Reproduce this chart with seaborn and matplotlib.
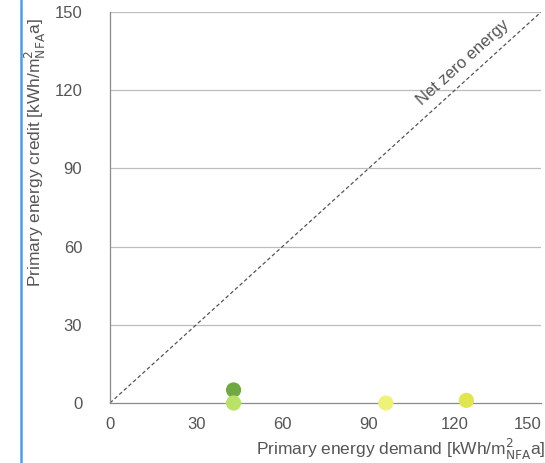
import matplotlib
matplotlib.use("Agg")
import matplotlib.pyplot as plt
import seaborn as sns
import pandas as pd
from matplotlib.lines import Line2D

sns.set_style("white")
plt.rcParams['font.family'] = ['Liberation Sans', 'DejaVu Sans']

# Data
demand = [43, 43, 96, 124]
credit = [5, 0, 0, 1]
building = ["A", "B", "C", "D"]
colors = ["#70a844", "#b9e266", "#eef27a", "#e2e64e"]
ticks = [0, 30, 60, 90, 120, 150]

df = pd.DataFrame({"demand": demand, "credit": credit, "building": building})

fig = plt.figure(figsize=(5.45, 4.63), dpi=100)
ax = fig.add_axes([0.2018, 0.1296, 0.791, 0.8445])

# gridlines
for t in ticks[1:]:
    ax.axhline(t, color="#bdbdbd", lw=0.9, zorder=0)

# net zero line
ax.plot([0, 150], [0, 150], ls=(0, (3, 2)), color="#555555", lw=0.9, zorder=1)
ax.text(124, 129.5, "Net zero energy", rotation=42.2, rotation_mode="anchor",
        ha="center", va="baseline", fontsize=12, color="#555555")

sns.scatterplot(data=df, x="demand", y="credit", hue="building",
                palette=colors, s=120, edgecolor="none", legend=False,
                ax=ax, clip_on=False, zorder=3)

ax.set_xlim(0, 150)
ax.set_ylim(0, 150)
ax.set_xticks(ticks)
ax.set_yticks(ticks)
ax.tick_params(axis="both", colors="#9a9a9a", labelcolor="#555555",
               labelsize=12, width=0.9, direction="out")
ax.tick_params(axis="y", length=14, pad=6)
ax.tick_params(axis="x", length=7, pad=3)
for s in ["top", "right"]:
    ax.spines[s].set_visible(False)
for s in ["left", "bottom"]:
    ax.spines[s].set_color("#8a8a8a")
    ax.spines[s].set_linewidth(0.9)

# keep the last x tick label inside the figure
ax.get_xticklabels()[-1].set_ha("right")

ax.set_xlabel(r"Primary energy demand [kWh/m$^2_{\mathrm{NFA}}$a]",
              fontsize=12.5, color="#555555")
ax.xaxis.set_label_coords(1.01, -0.118)
ax.xaxis.label.set_ha("right")
ax.xaxis.label.set_va("center")
ax.set_ylabel(r"Primary energy credit [kWh/m$^2_{\mathrm{NFA}}$a]",
              fontsize=12.5, color="#555555")
ax.yaxis.set_label_coords(-0.172, 0.64)
ax.yaxis.label.set_va("center")

# page border line
fig.add_artist(Line2D([0.039, 0.039], [0, 1], color="#5b9bd5", lw=1.8))

fig.savefig("out.png", dpi=100)
